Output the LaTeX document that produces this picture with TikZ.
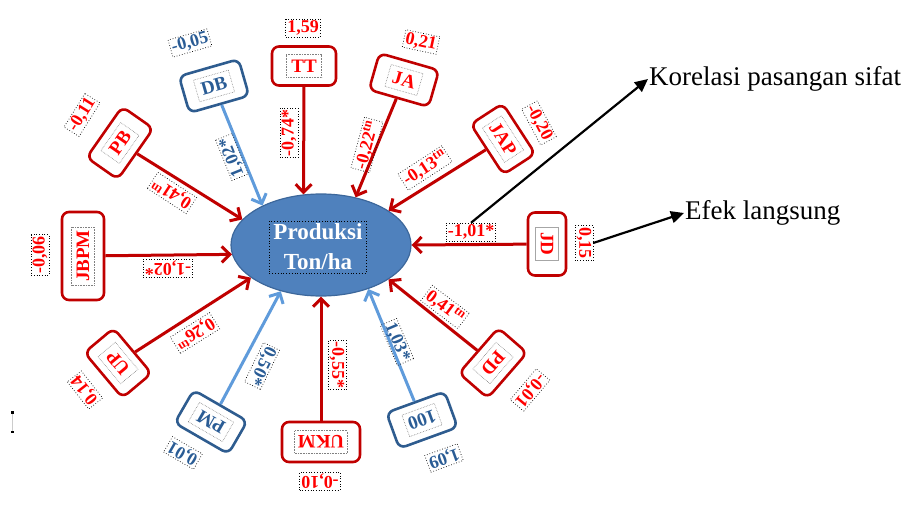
\documentclass[tikz,border=0pt]{standalone}
\usepackage{fontspec}
\setmainfont{Liberation Serif}
\usetikzlibrary{arrows.meta,shapes.geometric}
\definecolor{boxred}{HTML}{C00000}
\definecolor{txtred}{HTML}{FF0000}
\definecolor{boxblue}{HTML}{2E5C8F}
\definecolor{txtblue}{HTML}{2A5C95}
\definecolor{lineblue}{HTML}{5F9BDB}
\definecolor{ellfill}{HTML}{4F81BD}
\definecolor{elldraw}{HTML}{3C679B}
\begin{document}
\begin{tikzpicture}[x=1pt,y=-1pt,
  every node/.style={font=\bfseries\fontsize{18}{18}\selectfont},
  rbox/.style={draw=boxred, line width=2.6pt, rounded corners=7pt, minimum width=62pt, minimum height=38pt, inner sep=0pt},
  bbox/.style={rbox, draw=boxblue},
  rtxt/.style={text=txtred, draw=gray, densely dotted, line width=0.6pt, inner xsep=5pt, inner ysep=5pt, font=\bfseries\fontsize{19}{19}\selectfont},
  btxt/.style={rtxt, text=txtblue},
  rval/.style={text=txtred, draw=black, dotted, line width=0.7pt, inner sep=1.5pt},
  bval/.style={rval, text=txtblue},
  rarr/.style={draw=boxred, line width=3pt, -{Straight Barb[length=8pt,width=16pt]}},
  barr/.style={rarr, draw=lineblue},
  karr/.style={draw=black, line width=2.2pt, -{Triangle[length=13pt,width=12pt]}},
  note/.style={font=\fontsize{27}{27}\selectfont, inner sep=1pt, anchor=west}
]
\useasboundingbox (0,0) rectangle (906,508);

% central ellipse
\node[ellipse, fill=ellfill, draw=elldraw, line width=1.2pt, minimum width=180pt, minimum height=102pt, inner sep=0pt] (prod) at (321,245) {};
\node[draw=black, dotted, line width=0.8pt, text=white, align=center, font=\bfseries\fontsize{23}{30}\selectfont, inner xsep=4pt, inner ysep=3pt] (prodtxt) at (318,247) {Produksi\\Ton/ha};

% boxes
\node[bbox, rotate=16] (db) at (214,86) {};
\node[btxt, rotate=16] (dbt) at (db.center) {DB};
\node[rbox, minimum width=64pt, minimum height=39pt] (tt) at (304,66) {};
\node[rtxt] (ttt) at (tt.center) {TT};
\node[rbox, rotate=-16] (ja) at (404,80) {};
\node[rtxt, rotate=-16] (jat) at (ja.center) {JA};
\node[rbox, rotate=-57, minimum width=60pt] (jap) at (503,139) {};
\node[rtxt, rotate=-57, inner xsep=3pt] (japt) at (jap.center) {JAP};
\node[rbox, rotate=-90, minimum width=63pt] (jd) at (547,244) {};
\node[rtxt, rotate=-90, draw=gray!70, solid] (jdt) at (jd.center) {JD};
\node[rbox, rotate=-131, minimum width=60pt] (pd) at (493,363) {};
\node[rtxt, rotate=-131] (pdt) at (pd.center) {PD};
\node[bbox, rotate=-160] (b100) at (422,420) {};
\node[btxt, rotate=-160, inner xsep=3pt] (b100t) at (b100.center) {100};
\node[rbox, rotate=180, minimum width=78pt, minimum height=40pt] (ukm) at (321,442) {};
\node[rtxt, rotate=180, inner xsep=3pt] (ukmt) at (ukm.center) {UKM};
\node[bbox, rotate=150] (pm) at (211,422) {};
\node[btxt, rotate=150] (pmt) at (pm.center) {PM};
\node[rbox, rotate=130, minimum width=59pt] (up) at (118,363) {};
\node[rtxt, rotate=130] (upt) at (up.center) {UP};
\node[rbox, rotate=90, minimum width=88pt, minimum height=42pt] (jbpm) at (83,256) {};
\node[rtxt, rotate=90, inner xsep=3pt] (jbpmt) at (jbpm.center) {JBPM};
\node[rbox, rotate=55] (pb) at (120,143) {};
\node[rtxt, rotate=55] (pbt) at (pb.center) {PB};

% value labels next to boxes
\node[bval, rotate=16] (vdb) at (190,43) {-0,05};
\node[rval] (vtt) at (303,28) {1,59};
\node[rval, rotate=-12] (vja) at (421,42) {0,21};
\node[rval, rotate=-62] (vjap) at (539,123) {-0,20};
\node[rval, rotate=-90] (l15) at (584,243) {0,15};
\node[rval, rotate=-130] (vpd) at (530,390) {-0,01};
\node[bval, rotate=-160] (v100) at (444,458) {1,09};
\node[rval, rotate=180] (vukm) at (320,481) {-0,10};
\node[bval, rotate=150] (vpm) at (183,453) {0,01};
\node[rval, rotate=128] (vup) at (85,390) {0,14};
\node[rval, rotate=90] (vjbpm) at (40,255) {-0,06};
\node[rval, rotate=58] (vpb) at (82,115) {-0,11};

% connectors
\draw[barr] (db) -- (prod.146);
\draw[rarr] (tt) -- (prod.109);
\draw[rarr] (ja) -- (prod.54);
\draw[rarr] (jap) -- (prod.27);
\draw[rarr] (jd) -- (prod.0);
\draw[rarr] (pd) -- (prod.-27);
\draw[barr] (b100) -- (prod.-43);
\draw[rarr] (ukm) -- (prod.-90);
\draw[barr] (pm) -- (prod.229);
\draw[rarr] (up) -- (prod.205);
\draw[rarr] (jbpm) -- (prod.186);
\draw[rarr] (pb) -- (prod.162);

% labels on connectors
\node[bval, rotate=112] (ldb) at (232,157) {1,02*};
\node[rval, rotate=90] (ltt) at (289,133) {-0,74*};
\node[rval, rotate=75] (lja) at (367,145) {-0,22\textsuperscript{tn}};
\node[rval, rotate=33] (ljap) at (425,168) {-0,13\textsuperscript{tn}};
\node[rval] (ljd) at (471,232) {-1,01*};
\node[rval, rotate=-37] (lpd) at (445,307) {0,41\textsuperscript{tn}};
\node[bval, rotate=-67] (l100) at (397,342) {1,03*};
\node[rval, rotate=-90] (lukm) at (337,365) {-0,55*};
\node[bval, rotate=-116] (lpm) at (262,366) {0,50*};
\node[rval, rotate=-148] (lup) at (195,333) {0,26\textsuperscript{tn}};
\node[rval, rotate=180] (ljbpm) at (168,268) {-1,02*};
\node[rval, rotate=147] (lpb) at (172,193) {0,41\textsuperscript{tn}};

% legend
\node[note] (kor) at (648,79) {Korelasi pasangan sifat};
\node[note] (efk) at (684,213) {Efek langsung};
\draw[karr] (ljd.north) -- (kor.west);
\draw[karr] (l15.north) -- (efk.west);

% small cursor mark at left
\draw[gray!40, line width=1pt] (12,412) -- (12,432);
\fill[black] (11,411) rectangle (13.5,413.5);
\fill[black] (11,430.5) rectangle (13.5,433);
\end{tikzpicture}
\end{document}
